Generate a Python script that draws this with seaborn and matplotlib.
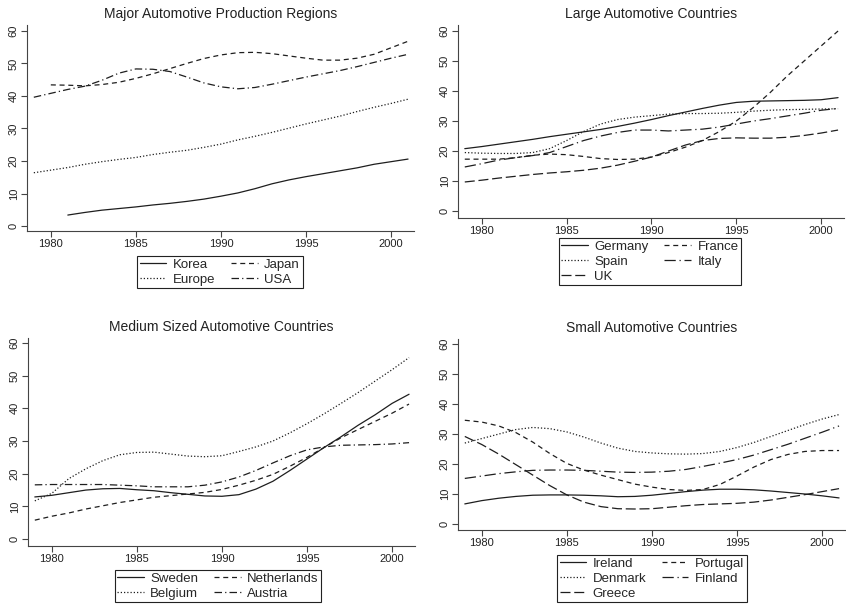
import numpy as np
import pandas as pd
import seaborn as sns
import matplotlib
matplotlib.use("Agg")
import matplotlib.pyplot as plt

years = list(range(1979, 2002))
nan = np.nan

# Panel 1: major production regions
korea = [nan, nan, 3.4, 4.2, 4.9, 5.4, 5.9, 6.5, 7.0, 7.6, 8.3, 9.2, 10.2, 11.5, 13.0, 14.2,
         15.2, 16.1, 17.0, 17.9, 19.0, 19.8, 20.6]
japan = [nan, 43.4, 43.3, 43.1, 43.5, 44.2, 45.4, 46.8, 48.4, 50.0, 51.5, 52.6, 53.3, 53.4,
         53.0, 52.3, 51.6, 51.0, 51.0, 51.6, 52.8, 54.8, 56.8]
europe = [16.4, 17.2, 18.0, 19.0, 19.8, 20.5, 21.1, 22.0, 22.7, 23.3, 24.2, 25.2, 26.5, 27.6,
          28.8, 30.1, 31.4, 32.6, 33.8, 35.2, 36.5, 37.7, 39.0]
usa = [39.6, 40.8, 42.0, 43.0, 44.8, 47.0, 48.3, 48.2, 47.5, 45.8, 44.0, 42.8, 42.2, 42.6,
       43.6, 44.7, 45.8, 46.8, 47.8, 49.0, 50.3, 51.6, 52.8]

# Panel 2: large countries
germany = [20.8, 21.5, 22.3, 23.1, 23.9, 24.8, 25.6, 26.4, 27.2, 28.2, 29.3, 30.5, 31.8, 33.0,
           34.2, 35.3, 36.2, 36.6, 36.7, 36.8, 36.9, 37.1, 37.8]
france = [17.3, 17.3, 17.3, 17.8, 18.6, 19.0, 18.8, 18.2, 17.5, 17.2, 17.3, 18.0, 19.5, 21.3,
          23.5, 26.5, 30.0, 34.5, 39.5, 45.0, 50.0, 55.0, 60.0]
spain = [19.5, 19.3, 19.2, 19.2, 19.5, 20.8, 23.5, 26.5, 29.0, 30.5, 31.3, 31.8, 32.3, 32.5,
         32.5, 32.6, 32.9, 33.3, 33.6, 33.8, 33.9, 34.0, 34.1]
italy = [14.7, 15.8, 17.0, 17.8, 18.5, 19.5, 21.5, 23.5, 25.0, 26.2, 27.0, 27.0, 26.7, 27.0,
         27.3, 28.0, 29.0, 30.0, 30.8, 31.7, 32.6, 33.6, 34.2]
uk = [9.7, 10.3, 11.0, 11.6, 12.2, 12.7, 13.1, 13.6, 14.3, 15.3, 16.6, 18.0, 20.0, 22.0,
      23.5, 24.2, 24.4, 24.3, 24.3, 24.6, 25.2, 26.0, 27.0]

# Panel 3: medium sized countries
sweden = [12.9, 13.4, 14.2, 15.0, 15.4, 15.5, 15.1, 14.8, 14.2, 13.7, 13.2, 13.1, 13.6, 15.3,
          17.7, 21.0, 24.5, 28.0, 31.3, 34.8, 38.0, 41.5, 44.3]
netherlands = [5.8, 7.0, 8.0, 9.2, 10.2, 11.2, 12.0, 12.8, 13.3, 13.8, 14.3, 15.2, 16.5, 18.0,
               19.8, 22.3, 25.0, 28.0, 31.0, 33.5, 36.0, 38.5, 41.3]
belgium = [11.7, 14.0, 18.5, 21.5, 24.0, 25.8, 26.5, 26.6, 26.0, 25.4, 25.2, 25.5, 26.8, 28.2,
           30.0, 32.5, 35.3, 38.3, 41.5, 44.8, 48.3, 51.8, 55.5]
austria = [16.6, 16.7, 16.7, 16.7, 16.7, 16.5, 16.3, 16.0, 16.0, 16.0, 16.5, 17.5, 19.0, 21.0,
           23.3, 25.5, 27.3, 28.2, 28.7, 28.8, 28.9, 29.1, 29.5]

# Panel 4: small countries
ireland = [6.7, 7.8, 8.6, 9.2, 9.6, 9.7, 9.7, 9.6, 9.4, 9.1, 9.2, 9.6, 10.2, 10.8, 11.3, 11.6,
           11.6, 11.4, 11.0, 10.5, 10.0, 9.4, 8.7]
portugal = [34.6, 34.0, 32.7, 30.5, 27.3, 23.5, 20.2, 18.0, 16.3, 14.8, 13.3, 12.3, 11.5, 11.2,
            11.5, 13.2, 16.0, 19.0, 21.5, 23.2, 24.2, 24.5, 24.5]
denmark = [27.0, 28.5, 30.0, 31.5, 32.2, 31.8, 30.7, 29.0, 27.0, 25.3, 24.2, 23.7, 23.4, 23.3,
           23.5, 24.2, 25.5, 27.2, 29.2, 31.2, 33.2, 35.0, 36.5]
finland = [15.2, 16.0, 16.8, 17.4, 17.9, 18.0, 18.0, 17.9, 17.6, 17.3, 17.2, 17.3, 17.6, 18.2,
           19.2, 20.3, 21.5, 23.0, 24.8, 26.6, 28.6, 30.6, 32.7]
greece = [29.2, 26.5, 23.3, 19.8, 16.3, 12.8, 9.7, 7.3, 5.8, 5.1, 5.0, 5.1, 5.6, 6.1, 6.5, 6.7,
          6.9, 7.3, 8.0, 8.9, 9.8, 10.8, 11.8]

SOLID, DASH, DOT = "", (4, 3), (1, 1.6)
DASHDOT, LONGDASH, LONGDASHDOT = (6, 2.5, 1, 2.5), (8, 3), (9, 3, 1, 3)

panels = [
    dict(title="Major Automotive Production Regions",
         series={"Korea": korea, "Japan": japan, "Europe": europe, "USA": usa},
         dashes={"Korea": SOLID, "Japan": DASH, "Europe": DOT, "USA": DASHDOT},
         legend_order=["Korea", "Europe", "Japan", "USA"],
         rect=(27, 25, 414, 231), ylim=(-1.5, 61.8), leg=(220, 256)),
    dict(title="Large Automotive Countries",
         series={"Germany": germany, "France": france, "Spain": spain, "Italy": italy, "UK": uk},
         dashes={"Germany": SOLID, "France": DASH, "Spain": DOT, "Italy": LONGDASHDOT, "UK": LONGDASH},
         legend_order=["Germany", "Spain", "UK", "France", "Italy"],
         rect=(458, 25, 844, 218), ylim=(-2.3, 62), leg=(650, 238)),
    dict(title="Medium Sized Automotive Countries",
         series={"Sweden": sweden, "Netherlands": netherlands, "Belgium": belgium, "Austria": austria},
         dashes={"Sweden": SOLID, "Netherlands": DASH, "Belgium": DOT, "Austria": DASHDOT},
         legend_order=["Sweden", "Belgium", "Netherlands", "Austria"],
         rect=(28, 338, 415, 546), ylim=(-2.1, 61.5), leg=(218, 570)),
    dict(title="Small Automotive Countries",
         series={"Ireland": ireland, "Portugal": portugal, "Denmark": denmark,
                 "Finland": finland, "Greece": greece},
         dashes={"Ireland": SOLID, "Portugal": DASH, "Denmark": DOT, "Finland": LONGDASHDOT,
                 "Greece": LONGDASH},
         legend_order=["Ireland", "Denmark", "Greece", "Portugal", "Finland"],
         rect=(458, 339, 845, 530), ylim=(-2.0, 61.7), leg=(652, 555)),
]

sns.set_style("white")
plt.rcParams["font.family"] = ["Liberation Sans", "DejaVu Sans"]

W, H = 846, 608
fig = plt.figure(figsize=(W / 100, H / 100), dpi=100)

for p in panels:
    x0, y0, x1, y1 = p["rect"]
    ax = fig.add_axes([x0 / W, 1 - y1 / H, (x1 - x0) / W, (y1 - y0) / H])

    rows = []
    for name, vals in p["series"].items():
        for yr, v in zip(years, vals):
            rows.append((yr, v, name))
    df = pd.DataFrame(rows, columns=["year", "value", "series"]).dropna()

    names = list(p["series"].keys())
    sns.lineplot(data=df, x="year", y="value", style="series", style_order=names,
                 dashes=p["dashes"], color="#1e1e1e", linewidth=0.9, ax=ax)

    handles, labels = ax.get_legend_handles_labels()
    hmap = dict(zip(labels, handles))
    order = p["legend_order"]
    lx, ly = p["leg"]
    leg = ax.legend([hmap[n] for n in order], order, loc="upper center",
                    bbox_to_anchor=(lx / W, 1 - ly / H), bbox_transform=fig.transFigure,
                    borderaxespad=0, ncol=2, fontsize=9.5, frameon=True, fancybox=False,
                    framealpha=1, edgecolor="#222222", borderpad=0.2, handlelength=2.0,
                    handletextpad=0.5, labelspacing=0.2, columnspacing=1.2)
    leg.get_frame().set_linewidth(0.8)

    ax.set_xlim(1978.6, 2001.35)
    ax.set_ylim(*p["ylim"])
    ax.set_xticks([1980, 1985, 1990, 1995, 2000])
    ax.set_yticks([0, 10, 20, 30, 40, 50, 60])
    ax.set_xlabel("")
    ax.set_ylabel("")
    ax.set_title(p["title"], fontsize=10, pad=5, color="#222222")
    for s in ["top", "right"]:
        ax.spines[s].set_visible(False)
    for s in ["left", "bottom"]:
        ax.spines[s].set_color("#444444")
        ax.spines[s].set_linewidth(0.8)
    ax.tick_params(axis="both", direction="out", length=4, width=0.8, colors="#444444",
                   labelsize=8, labelcolor="#222222", pad=2, left=True, bottom=True)
    for lab in ax.get_yticklabels():
        lab.set_rotation(90)
        lab.set_va("center")

fig.savefig("out.png", dpi=100)
